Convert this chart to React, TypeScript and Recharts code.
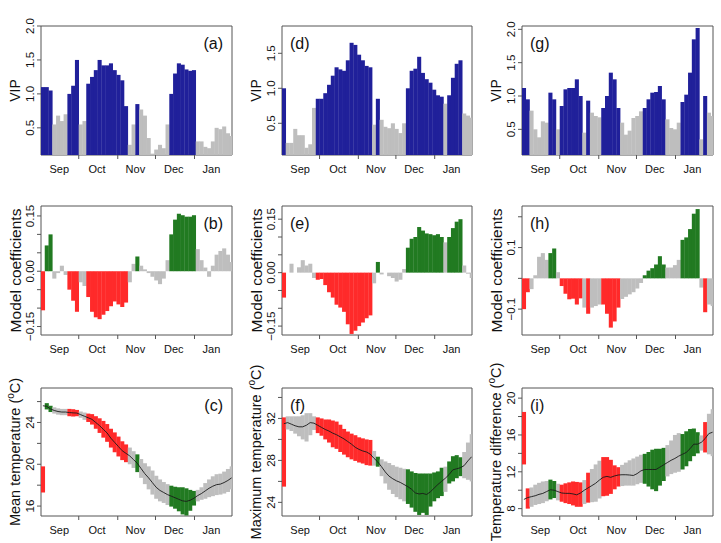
import type { ReactNode } from 'react'
import { Bar, Cell, ComposedChart, Label, Line, ReferenceArea, XAxis, YAxis } from 'recharts'

const FONT = '"Liberation Sans", Arial, Helvetica, sans-serif'
const BLUE = '#20209a'
const GRAY = '#bebebe'
const RED = '#ff2a2a'
const GREEN = '#217a21'
const FRAME = '#555555'
const INK = '#111111'

// x axis: days counted from 1 Sep, one value per 3-day step
const DAY_SPAN = 151.8
const STEP = 3
const stepStart = [
  0, 3, 6, 9, 12, 15, 18, 21, 24, 27, 30, 33, 36, 39, 42, 45, 48, 51, 54, 57, 60, 63, 66, 69, 72, 75,
  78, 81, 84, 87, 90, 93, 96, 99, 102, 105, 108, 111, 114, 117, 120, 123, 126, 129, 132, 135, 138, 141,
  144, 147, 150,
]
const monthEdges = [30, 61, 91, 122]
const monthCentres = [14.5, 44.5, 75, 105.5, 135.5]
const monthNames = ['Sep', 'Oct', 'Nov', 'Dec', 'Jan']

// column 1: mean temperature
const vipA = [
  1.1, 1.1, 1.05, 0.55, 0.68, 0.6, 0.7, 1.0, 1.12, 1.5,
  0.55, 0.6, 1.15, 1.25, 1.35, 1.5, 1.42, 1.42, 1.45, 1.35,
  1.28, 1.2, 0.82, 0.25, 0.55, 0.85, 0.77, 0.68, 0.35, 0.12,
  0.18, 0.25, 0.2, 0.55, 1.0, 1.3, 1.45, 1.43, 1.36, 1.34,
  1.35, 0.3, 0.3, 0.22, 0.2, 0.3, 0.5, 0.48, 0.52, 0.42, 0.38,
]
const coefB = [
  -0.106, 0.07, 0.1, -0.02, -0.005, 0.015, -0.01, -0.05, -0.08, -0.11,
  -0.03, -0.04, -0.07, -0.11, -0.125, -0.13, -0.118, -0.108, -0.095, -0.082,
  -0.09, -0.097, -0.085, -0.03, 0.02, 0.04, 0.015, 0.005, -0.005, -0.015,
  -0.025, -0.035, -0.02, 0.03, 0.1, 0.14, 0.156, 0.152, 0.148, 0.148,
  0.152, 0.06, 0.03, 0.01, -0.015, 0.015, 0.045, 0.055, 0.062, 0.045, 0.025,
]
const meanC = [
  25.6, 25.55, 25.3, 25.15, 25.05, 25.0, 25.0, 24.95, 24.92, 24.9,
  24.75, 24.6, 24.45, 24.3, 24.0, 23.7, 23.35, 23.0, 22.5, 22.1,
  21.7, 21.3, 21.05, 20.8, 20.45, 20.1, 19.6, 19.1, 18.7, 18.25,
  17.8, 17.5, 17.3, 17.1, 16.95, 16.8, 16.65, 16.5, 16.45, 16.55,
  16.75, 17.0, 17.2, 17.45, 17.7, 17.9, 18.05, 18.1, 18.25, 18.45, 18.7,
]
const lowC = [
  17.3, 25.25, 25.0, 24.85, 24.75, 24.7, 24.7, 24.6, 24.57, 24.6,
  24.45, 24.25, 24.05, 23.8, 23.4, 23.0, 22.55, 22.15, 21.6, 21.15,
  20.75, 20.4, 20.2, 20.0, 19.65, 19.25, 18.7, 18.1, 17.6, 17.1,
  16.7, 16.45, 16.3, 16.1, 15.95, 15.75, 15.5, 15.2, 15.1, 15.55,
  16.05, 16.45, 16.6, 16.7, 16.85, 16.95, 17.05, 17.1, 17.2, 17.35, 17.6,
]
const highC = [
  19.8, 25.85, 25.6, 25.45, 25.35, 25.3, 25.3, 25.3, 25.27, 25.2,
  25.05, 24.95, 24.85, 24.8, 24.6, 24.4, 24.15, 23.85, 23.4, 23.05,
  22.65, 22.2, 21.9, 21.6, 21.25, 20.95, 20.5, 20.1, 19.8, 19.4,
  18.9, 18.55, 18.3, 18.1, 17.95, 17.85, 17.8, 17.8, 17.7, 17.55,
  17.45, 17.55, 17.8, 18.2, 18.55, 18.85, 19.05, 19.1, 19.3, 19.55, 19.8,
]

// column 2: maximum temperature
const vipD = [
  1.0, 0.22, 0.22, 0.42, 0.33, 0.33, 0.15, 0.2, 0.72, 0.85,
  0.85, 0.93, 1.05, 1.18, 1.3, 1.27, 1.25, 1.4, 1.65, 1.62,
  1.48, 1.4, 1.32, 1.3, 0.48, 0.85, 0.55, 0.45, 0.43, 0.5,
  0.42, 0.36, 0.5, 1.0, 1.25, 1.28, 1.45, 1.22, 1.13, 1.08,
  0.98, 0.9, 0.88, 0.78, 0.9, 1.15, 1.35, 1.4, 0.64, 0.61, 0.58,
]
const coefE = [
  -0.07, 0.0, 0.025, 0.0, 0.015, 0.035, 0.02, 0.025, -0.015, -0.02,
  -0.018, -0.035, -0.055, -0.07, -0.09, -0.098, -0.11, -0.145, -0.172, -0.163,
  -0.15, -0.14, -0.128, -0.12, -0.03, 0.03, -0.005, 0.0, -0.01, -0.015,
  -0.025, -0.02, 0.01, 0.07, 0.095, 0.1, 0.128, 0.118, 0.11, 0.108,
  0.105, 0.108, 0.1, 0.085, 0.1, 0.125, 0.143, 0.15, 0.02, -0.003, -0.015,
]
const meanF = [
  31.5, 31.6, 31.45, 31.3, 31.2, 31.2, 31.35, 31.6, 31.55, 31.35,
  31.15, 30.95, 30.8, 30.6, 30.45, 30.25, 30.05, 29.8, 29.55, 29.25,
  29.05, 28.9, 28.8, 28.6, 28.2, 27.85, 27.4, 26.9, 26.5, 26.25,
  26.05, 25.9, 25.7, 25.5, 25.25, 24.9, 24.8, 24.85, 24.75, 25.0,
  25.35, 25.7, 26.0, 26.3, 26.65, 27.1, 27.2, 27.3, 27.5, 27.95, 28.35,
]
const lowF = [
  25.5, 30.95, 30.8, 30.55, 30.3, 30.0, 29.8, 30.4, 30.9, 30.6,
  30.35, 30.0, 29.7, 29.25, 29.1, 28.8, 28.55, 28.3, 28.1, 27.95,
  27.8, 27.7, 27.55, 27.5, 27.5, 27.4, 26.5, 25.8, 25.2, 24.8,
  24.5, 24.3, 24.1, 23.85, 23.5, 23.1, 22.8, 23.0, 22.8, 23.6,
  24.1, 24.4, 24.6, 25.0, 25.8, 26.0, 26.3, 26.5, 26.3, 26.15, 26.0,
]
const highF = [
  32.1, 32.2, 32.2, 32.2, 32.2, 32.3, 32.5, 32.5, 32.2, 32.1,
  32.0, 31.9, 31.9, 31.8, 31.7, 31.4, 31.0, 30.75, 30.55, 30.4,
  30.2, 30.1, 30.0, 29.95, 28.9, 28.35, 28.1, 27.9, 27.75, 27.55,
  27.4, 27.3, 27.2, 27.15, 26.95, 26.8, 26.75, 26.75, 26.75, 26.75,
  26.85, 26.95, 27.3, 27.4, 27.9, 28.4, 28.5, 28.3, 28.8, 29.7, 30.5,
]

// column 3: temperature difference
const vipG = [
  1.12, 0.95, 0.78, 0.5, 0.38, 0.62, 0.6, 1.05, 0.95, 0.5,
  0.85, 1.1, 1.12, 1.12, 1.25, 1.0, 0.45, 0.93, 0.75, 0.7,
  0.68, 0.82, 1.0, 1.35, 1.25, 0.82, 0.6, 0.42, 0.48, 0.67,
  0.7, 0.77, 0.82, 0.95, 1.05, 1.06, 1.15, 0.95, 0.65, 0.52,
  0.5, 0.6, 0.91, 1.02, 1.35, 1.85, 2.02, 0.35, 1.0, 0.75, 0.7,
]
const coefH = [
  -0.1, -0.045, -0.035, 0.01, 0.07, 0.082, 0.06, 0.082, 0.097, 0.02,
  -0.025, -0.05, -0.068, -0.066, -0.085, -0.065, -0.095, -0.115, -0.095, -0.09,
  -0.085, -0.085, -0.115, -0.16, -0.14, -0.095, -0.067, -0.06, -0.052, -0.045,
  -0.033, -0.015, 0.01, 0.025, 0.033, 0.045, 0.072, 0.045, 0.035, 0.035,
  0.043, 0.06, 0.125, 0.133, 0.16, 0.21, 0.225, -0.03, -0.11, -0.085, -0.09,
]
const meanI = [
  9.0, 9.2, 9.3, 9.4, 9.55, 9.65, 9.85, 10.05, 10.0, 9.85,
  9.7, 9.66, 9.66, 9.6, 9.5, 9.7, 10.0, 10.25, 10.5, 10.75,
  11.1, 11.4, 11.5, 11.4, 11.55, 11.65, 11.68, 11.68, 11.65, 11.6,
  11.8, 12.1, 12.25, 12.25, 12.25, 12.25, 12.5, 12.75, 13.0, 13.25,
  13.45, 13.7, 13.9, 14.1, 14.5, 15.0, 15.0, 15.2, 15.6, 16.15, 16.3,
]
const lowI = [
  12.8, 8.0, 8.2, 8.4, 8.5, 8.6, 8.8, 9.0, 9.15, 8.9,
  8.75, 8.6, 8.5, 8.35, 8.2, 8.2, 8.5, 8.65, 8.7, 8.75,
  9.1, 9.35, 9.4, 9.6, 10.1, 10.4, 10.45, 10.5, 10.5, 10.5,
  10.65, 10.8, 10.7, 10.4, 10.1, 9.9, 10.5, 11.0, 11.5, 11.75,
  11.9, 12.0, 12.25, 12.6, 13.15, 13.7, 14.0, 14.3, 14.1, 13.9, 13.7,
]
const highI = [
  18.5, 10.2, 10.3, 10.6, 10.8, 10.95, 11.0, 11.15, 11.0, 10.7,
  10.6, 10.75, 10.85, 10.95, 10.9, 10.85, 11.1, 11.9, 12.3, 12.8,
  13.2, 13.6, 13.6, 13.3, 12.7, 12.5, 12.75, 13.0, 13.25, 13.45,
  13.65, 13.85, 13.95, 14.15, 14.4, 14.5, 14.5, 14.6, 14.9, 15.4,
  16.0, 16.2, 16.1, 16.4, 16.65, 16.7, 16.3, 15.95, 17.4, 18.3, 18.8,
]

const vipTicks = [0.5, 1.0, 1.5, 2.0]
const coefTicks = [-0.15, -0.1, -0.05, 0, 0.05, 0.1, 0.15]
const coefLabels = [-0.15, 0, 0.15]
const coefTicksH = [-0.1, 0, 0.1, 0.2]
const coefLabelsH = [-0.1, 0.1]
const meanTicks = [16, 18, 20, 22, 24, 26]
const meanLabels = [16, 20, 24]
const maxTicks = [24, 26, 28, 30, 32, 34]
const maxLabels = [24, 28, 32]
const diffTicks = [8, 10, 12, 14, 16, 18, 20]
const diffLabels = [8, 12, 16, 20]

type Row = { day: number; v?: number; lo?: number; hi?: number; mean?: number; fill: string }

const tone = (vip: number, coef: number) => (vip < 0.8 ? GRAY : coef < 0 ? RED : GREEN)

const vipRows = (vip: number[]): Row[] =>
  stepStart.map((d, i) => ({ day: d + STEP / 2, v: vip[i], fill: vip[i] >= 0.8 ? BLUE : GRAY }))

const coefRows = (vip: number[], coef: number[]): Row[] =>
  stepStart.map((d, i) => ({ day: d + STEP / 2, v: coef[i], fill: tone(vip[i], coef[i]) }))

const tempRows = (vip: number[], coef: number[], mean: number[], lo: number[], hi: number[]): Row[] =>
  stepStart.map((d, i) => ({ day: d + STEP / 2, mean: mean[i], lo: lo[i], hi: hi[i], fill: tone(vip[i], coef[i]) }))

const minus = (s: string) => s.replace('-', '\u2212')
const fmt1 = (v: number) => minus(v.toFixed(1))
const fmt2 = (v: number) => minus(v.toFixed(2))
const fmt0 = (v: number) => String(v)

const degC = (name: string) => (
  <>
    {name} (<tspan dy={-5} fontSize={10}>o</tspan>
    <tspan dy={5}>C)</tspan>
  </>
)

function XTick(props: any) {
  const { x, y, payload } = props
  const idx = monthCentres.indexOf(payload.value)
  if (idx >= 0) {
    return (
      <text x={x} y={y + 18} textAnchor="middle" fontSize={11} fontFamily={FONT} fill={INK}>
        {monthNames[idx]}
      </text>
    )
  }
  return <line x1={x} x2={x} y1={y} y2={y + 4} stroke={FRAME} />
}

const yTick = (labelled: number[], format: (v: number) => string) => (props: any) => {
  const { x, y, payload } = props
  const v = payload.value as number
  const show = labelled.some((l) => Math.abs(l - v) < 1e-9)
  return (
    <g>
      <line x1={x} x2={x - 4} y1={y} y2={y} stroke={FRAME} />
      {show && (
        <text
          transform={`translate(${x - 7.5},${y}) rotate(-90)`}
          textAnchor="middle"
          fontSize={11.5}
          fontFamily={FONT}
          fill={INK}
        >
          {format(v)}
        </text>
      )}
    </g>
  )
}

const axisTitle = (title: ReactNode, size: number) => (props: any) => {
  const vb = props.viewBox
  const cx = vb.x + vb.width - 26
  const cy = vb.y + vb.height / 2
  return (
    <text
      transform={`translate(${cx},${cy}) rotate(-90)`}
      textAnchor="middle"
      dominantBaseline="central"
      fontSize={size}
      fontFamily={FONT}
      fill={INK}
    >
      {title}
    </text>
  )
}

const panelLetter = (text: string, right: boolean) => (props: any) => {
  const vb = props.viewBox
  return (
    <text
      x={right ? vb.x + vb.width - 9 : vb.x + 8}
      y={vb.y + 22.5}
      textAnchor={right ? 'end' : 'start'}
      fontSize={16}
      fontFamily={FONT}
      fill={INK}
    >
      {text}
    </text>
  )
}

// full-width bar for one 3-day step, centred where Recharts puts the bar
const stepBar = (stepWidth: number) => (props: any) => {
  const { x, y, width, height, fill } = props
  if (x == null || y == null) return <g />
  const cx = x + width / 2
  const top = height < 0 ? y + height : y
  return <rect x={cx - stepWidth / 2} y={top} width={stepWidth} height={Math.abs(height)} fill={fill} />
}

interface PanelProps {
  left: number
  right: number
  top: number
  bottom: number
  rows: Row[]
  domain: [number, number]
  ticks: number[]
  labelled: number[]
  format: (v: number) => string
  title: ReactNode
  titleSize: number
  letter: string
  letterRight?: boolean
  band?: boolean
}

const bandKey = (r: Row) => [r.lo, r.hi]

function Panel(p: PanelProps) {
  const padTop = 26
  const width = p.right - p.left + 49
  const height = p.bottom - p.top + padTop + 25
  const stepWidth = ((p.right - p.left) * STEP) / DAY_SPAN + 0.3
  const xTicks = [...monthEdges, ...monthCentres].sort((a, b) => a - b)
  return (
    <div style={{ position: 'absolute', left: p.left - 41, top: p.top - padTop }}>
      <ComposedChart
        width={width}
        height={height}
        data={p.rows}
        barCategoryGap={0}
        barGap={0}
        margin={{ top: padTop, right: 8, bottom: 0, left: 1 }}
      >
        <XAxis
          dataKey="day"
          type="number"
          domain={[0, DAY_SPAN]}
          allowDataOverflow
          ticks={xTicks}
          interval={0}
          tick={(t: any) => <XTick {...t} />}
          tickSize={0}
          tickMargin={0}
          axisLine={false}
          tickLine={false}
          height={25}
        />
        <YAxis
          type="number"
          domain={p.domain}
          allowDataOverflow
          ticks={p.ticks}
          interval={0}
          tick={yTick(p.labelled, p.format)}
          tickSize={0}
          tickMargin={0}
          axisLine={false}
          tickLine={false}
          width={40}
          label={<Label content={axisTitle(p.title, p.titleSize)} />}
        />
        <Bar dataKey={p.band ? bandKey : 'v'} shape={stepBar(stepWidth)} isAnimationActive={false}>
          {p.rows.map((r, i) => (
            <Cell key={i} fill={r.fill} />
          ))}
        </Bar>
        {p.band && (
          <Line
            dataKey="mean"
            type="linear"
            stroke="#1a1a1a"
            strokeWidth={0.9}
            dot={false}
            activeDot={false}
            isAnimationActive={false}
          />
        )}
        <ReferenceArea
          x1={0}
          x2={DAY_SPAN}
          y1={p.domain[0]}
          y2={p.domain[1]}
          ifOverflow="visible"
          fill="none"
          fillOpacity={0}
          stroke={FRAME}
          strokeWidth={1}
          label={<Label content={panelLetter(p.letter, !!p.letterRight)} />}
        />
      </ComposedChart>
    </div>
  )
}

const colL = [41, 282, 522]
const colR = [232, 472, 713]
const rowT = [26, 206, 388]
const rowB = [155, 335, 516]

export default function App() {
  return (
    <div style={{ position: 'absolute', left: 0, top: 0, width: 721, height: 543, background: '#fff' }}>
      <Panel left={colL[0]} right={colR[0]} top={rowT[0]} bottom={rowB[0]} rows={vipRows(vipA)}
        domain={[0.1, 2.0]} ticks={vipTicks} labelled={vipTicks} format={fmt1}
        title="VIP" titleSize={14} letter="(a)" letterRight />
      <Panel left={colL[1]} right={colR[1]} top={rowT[0]} bottom={rowB[0]} rows={vipRows(vipD)}
        domain={[0.047, 1.89]} ticks={[0.5, 1.0, 1.5]} labelled={[0.5, 1.0, 1.5]} format={fmt1}
        title="VIP" titleSize={14} letter="(d)" />
      <Panel left={colL[2]} right={colR[2]} top={rowT[0]} bottom={rowB[0]} rows={vipRows(vipG)}
        domain={[0.115, 2.05]} ticks={vipTicks} labelled={vipTicks} format={fmt1}
        title="VIP" titleSize={14} letter="(g)" />

      <Panel left={colL[0]} right={colR[0]} top={rowT[1]} bottom={rowB[1]} rows={coefRows(vipA, coefB)}
        domain={[-0.173, 0.177]} ticks={coefTicks} labelled={coefLabels} format={fmt2}
        title="Model coefficients" titleSize={15.5} letter="(b)" letterRight />
      <Panel left={colL[1]} right={colR[1]} top={rowT[1]} bottom={rowB[1]} rows={coefRows(vipD, coefE)}
        domain={[-0.175, 0.187]} ticks={coefTicks} labelled={coefLabels} format={fmt2}
        title="Model coefficients" titleSize={15.5} letter="(e)" />
      <Panel left={colL[2]} right={colR[2]} top={rowT[1]} bottom={rowB[1]} rows={coefRows(vipG, coefH)}
        domain={[-0.184, 0.235]} ticks={coefTicksH} labelled={coefLabelsH} format={fmt1}
        title="Model coefficients" titleSize={15.5} letter="(h)" />

      <Panel left={colL[0]} right={colR[0]} top={rowT[2]} bottom={rowB[2]} band
        rows={tempRows(vipA, coefB, meanC, lowC, highC)}
        domain={[15.05, 27.3]} ticks={meanTicks} labelled={meanLabels} format={fmt0}
        title={degC('Mean temperature')} titleSize={14.5} letter="(c)" letterRight />
      <Panel left={colL[1]} right={colR[1]} top={rowT[2]} bottom={rowB[2]} band
        rows={tempRows(vipD, coefE, meanF, lowF, highF)}
        domain={[22.7, 34.9]} ticks={maxTicks} labelled={maxLabels} format={fmt0}
        title={degC('Maximum temperature')} titleSize={14.5} letter="(f)" />
      <Panel left={colL[2]} right={colR[2]} top={rowT[2]} bottom={rowB[2]} band
        rows={tempRows(vipG, coefH, meanI, lowI, highI)}
        domain={[7.2, 21.1]} ticks={diffTicks} labelled={diffLabels} format={fmt0}
        title={degC('Temperature difference')} titleSize={14.5} letter="(i)" />
    </div>
  )
}
